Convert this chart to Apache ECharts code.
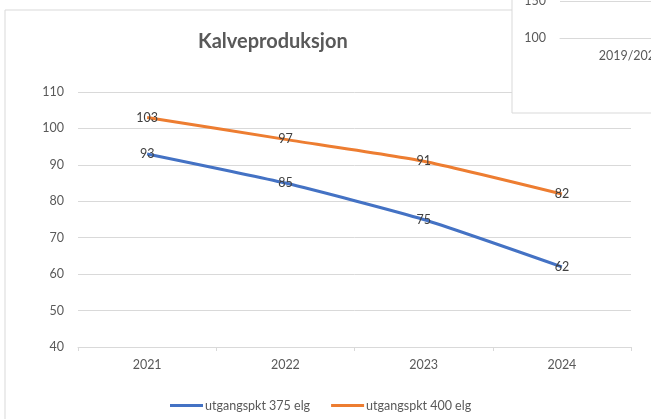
<!DOCTYPE html>
<html>
<head>
<meta charset="utf-8">
<script src="https://cdn.jsdelivr.net/npm/echarts@6/dist/echarts.min.js"></script>
<style>
  html, body { margin: 0; padding: 0; background: #fff; }
  #chart { width: 651px; height: 419px; }
</style>
</head>
<body>
<div id="chart"></div>
<script>
// data
const years = ['2021', '2022', '2023', '2024']
const elg375 = [93, 85, 75, 62]
const elg400 = [103, 97, 91, 82]
const insetYears = ['2019/2020']

const chart = echarts.init(document.getElementById('chart'))
const txt = '#595959'
const gridColor = '#d9d9d9'

const option = {
  backgroundColor: '#fff',
  textStyle: { fontFamily: 'Lato' },
  title: {
    text: 'Kalveproduksjon',
    left: 193,
    top: 27,
    textStyle: { fontSize: 20, fontWeight: 'bold', color: txt, fontFamily: 'Lato' }
  },
  legend: {
    left: 165,
    top: 394,
    icon: 'rect',
    itemWidth: 33,
    itemHeight: 3,
    itemGap: 21,
    textStyle: { color: txt, fontSize: 12.5, fontFamily: 'Lato', padding: [0, 0, 0, -3] },
    data: ['utgangspkt 375 elg', 'utgangspkt 400 elg']
  },
  graphic: [
    { // main chart frame
      type: 'rect', z: -10, silent: true,
      shape: { x: 5, y: 10, width: 700, height: 500 },
      style: { fill: '#fff', stroke: gridColor, lineWidth: 1 }
    },
    { // overlapping chart box
      type: 'rect', z: 100, silent: true,
      shape: { x: 512, y: -10, width: 200, height: 123 },
      style: { fill: '#fff', stroke: gridColor, lineWidth: 1 }
    }
  ],
  grid: [
    { left: 78, right: 20, top: 92, bottom: 72, outerBoundsMode: 'none' },
    { left: 560, right: -50, top: 1, height: 37, outerBoundsMode: 'none' }
  ],
  xAxis: [
    {
      type: 'category',
      data: years,
      gridIndex: 0,
      axisLine: { lineStyle: { color: gridColor } },
      axisTick: { show: true, lineStyle: { color: gridColor }, length: 4 },
      axisLabel: { color: txt, fontSize: 12.5, margin: 11 }
    },
    {
      type: 'category',
      data: insetYears,
      gridIndex: 1,
      z: 110,
      axisLine: { lineStyle: { color: gridColor } },
      axisTick: { show: false },
      axisLabel: { color: txt, fontSize: 12.5, margin: 11 }
    }
  ],
  yAxis: [
    {
      type: 'value',
      gridIndex: 0,
      min: 40,
      max: 110,
      interval: 10,
      axisLine: { show: false },
      axisTick: { show: false },
      axisLabel: { color: txt, fontSize: 12.5, margin: 14 },
      splitLine: { lineStyle: { color: gridColor } }
    },
    {
      type: 'value',
      gridIndex: 1,
      z: 110,
      min: 100,
      max: 150,
      interval: 50,
      axisLine: { show: false },
      axisTick: { show: false },
      axisLabel: { color: txt, fontSize: 12.5, margin: 14 },
      splitLine: { lineStyle: { color: gridColor } }
    }
  ],
  series: [
    {
      name: 'utgangspkt 375 elg',
      type: 'line',
      data: elg375,
      smooth: 0.18,
      showSymbol: true,
      symbol: 'circle',
      symbolSize: 0,
      color: '#4472C4',
      lineStyle: { width: 3, color: '#4472C4' },
      label: { show: true, position: 'inside', color: '#404040', fontSize: 12.5 }
    },
    {
      name: 'utgangspkt 400 elg',
      type: 'line',
      data: elg400,
      smooth: 0.18,
      showSymbol: true,
      symbol: 'circle',
      symbolSize: 0,
      color: '#ED7D31',
      lineStyle: { width: 3, color: '#ED7D31' },
      label: { show: true, position: 'inside', color: '#404040', fontSize: 12.5 }
    }
  ]
}
chart.setOption(option)
</script>
</body>
</html>
